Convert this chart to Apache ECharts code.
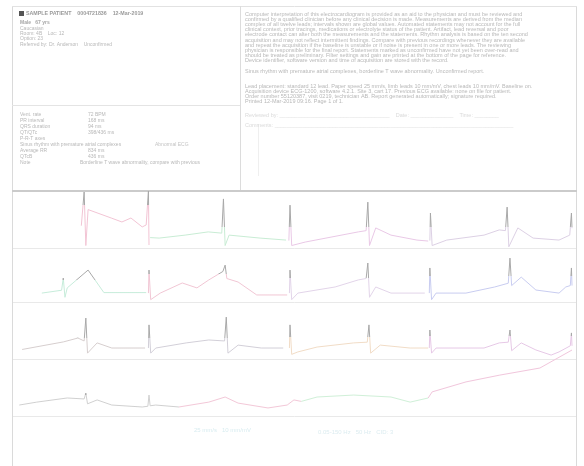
<!DOCTYPE html>
<html>
<head>
<meta charset="utf-8">
<script src="https://cdn.jsdelivr.net/npm/echarts/dist/echarts.min.js"></script>
<style>
  html, body { margin: 0; padding: 0; background: #fff; }
  #ecg { width: 584px; height: 466px; }
</style>
</head>
<body>
<div id="ecg"></div>
<script>
// traces: [time s, mV], one array per printed segment
var r1Seg1 = [[1.30,0.5],[1.35,1.86],[1.38,-0.3],[1.42,1.15],[1.45,1.21],[1.83,0.81],[2.02,0.65],[2.18,0.81],[2.38,0.45],[2.45,0.53],[2.48,0.5],[2.49,1.9],[2.50,-0.28]];
var r1Seg2 = [[2.52,0.02],[2.68,0.0],[3.14,0.12],[3.55,0.25],[3.79,0.2],[3.82,1.58],[3.85,-0.3],[3.92,0.12],[4.47,0.0],[4.93,-0.08]];
var r1Seg3 = [[4.98,-0.1],[5.0,1.33],[5.03,-0.3],[5.27,-0.16],[6.21,0.25],[6.35,0.3],[6.38,1.45],[6.41,-0.3],[6.52,0.41],[6.79,0.12],[7.25,-0.08],[7.45,-0.12]];
var r1Seg4 = [[7.48,-0.1],[7.49,1.01],[7.52,-0.3],[7.78,-0.08],[8.44,0.12],[8.71,0.33],[8.82,0.3],[8.85,1.25],[8.88,-0.35],[9.04,0.41],[9.31,0.0],[9.77,-0.08],[9.96,0.12],[9.99,1.01],[10.0,0.4]];

var r2Seg1 = [[0.6,-0.02],[0.95,0.1],[0.98,0.62],[1.01,-0.2],[1.05,0.2],[1.42,0.96],[1.7,0.0],[2.45,0.0]];
var r2Seg2 = [[2.49,-0.02],[2.5,0.96],[2.53,-0.3],[2.7,-0.02],[3.09,0.41],[3.35,0.2],[3.56,0.54],[3.81,0.9],[3.85,1.17],[3.88,0.6],[4.08,0.45],[4.41,-0.1],[4.95,-0.1]];
var r2Seg3 = [[4.99,-0.02],[5.0,0.96],[5.03,-0.3],[5.14,-0.02],[5.8,0.24],[6.21,0.54],[6.35,0.6],[6.38,1.26],[6.41,-0.2],[6.52,0.24],[6.79,-0.02],[7.39,-0.02]];
var r2Seg4 = [[7.47,-0.02],[7.48,1.05],[7.51,-0.3],[7.59,-0.02],[8.12,-0.02],[8.63,0.24],[8.87,0.4],[8.9,1.47],[8.93,0.3],[9.1,0.66],[9.36,0.11],[9.77,-0.02],[9.89,0.24],[9.97,0.3],[9.99,1.05],[10.0,0.3]];

var r3Seg1 = [[0.25,-0.05],[0.98,0.26],[1.24,0.42],[1.35,0.3],[1.38,1.24],[1.41,-0.2],[1.58,0.22],[1.84,0.01],[2.43,0.01]];
var r3Seg2 = [[2.49,0.01],[2.5,0.96],[2.53,-0.2],[2.62,0.01],[3.16,0.22],[3.56,0.34],[3.84,0.3],[3.87,1.28],[3.9,-0.2],[4.08,0.13],[4.49,0.01],[4.88,0.01]];
var r3Seg3 = [[4.99,0.01],[5.0,0.96],[5.03,-0.25],[5.14,-0.15],[5.48,0.05],[6.13,0.22],[6.37,0.25],[6.4,0.96],[6.43,-0.2],[6.6,0.13],[7.13,0.01],[7.45,0.01]];
var r3Seg4 = [[7.47,0.01],[7.48,0.75],[7.51,-0.2],[7.59,0.01],[8.44,0.01],[8.71,0.22],[8.87,0.25],[8.9,0.75],[8.93,-0.1],[9.1,0.22],[9.36,-0.07],[9.63,-0.28],[9.77,-0.15],[9.97,0.1],[9.99,0.63],[10.0,0.1]];

var r4Seg1 = [[0.2,0.05],[0.51,0.17],[1.05,0.34],[1.35,0.3],[1.38,0.54],[1.41,0.1],[1.58,0.26],[1.84,0.05],[2.38,-0.03],[2.48,0.0],[2.5,0.46],[2.52,0.02],[2.62,0.05],[3.03,-0.03]];
var r4Seg2 = [[3.03,-0.03],[3.56,0.17],[3.85,0.38],[4.08,0.13],[4.61,-0.07],[4.95,0.05],[5.07,0.26],[5.2,0.2]];
var r4Seg3 = [[5.2,0.2],[5.48,0.38],[6.13,0.46],[6.79,0.38],[7.13,0.17],[7.45,0.34]];
var r4Seg4 = [[7.45,0.34],[7.52,0.59],[8.12,1.0],[8.72,1.28],[9.43,1.57],[10.0,2.31]];

// header texts
var titleText = 'SAMPLE PATIENT    0004721836    12-Mar-2019';
var headerLines = ['Male   67 yrs', 'Caucasian', 'Room: 4B    Loc: 12', 'Option: 23', 'Referred by: Dr. Anderson    Unconfirmed'];
var measureLabels = ['Vent. rate', 'PR interval', 'QRS duration', 'QT/QTc', 'P-R-T axes', 'Sinus rhythm with premature atrial complexes', 'Average RR', 'QTcB', 'Note'];
var measureValues = ['72 BPM', '168 ms', '94 ms', '398/436 ms', '', '', '834 ms', '436 ms', 'Borderline T wave abnormality, compare with previous'];
var measureExtra = ['', '', '', '', '', 'Abnormal ECG', '', '', ''];
var noteLines = [
  'Computer interpretation of this electrocardiogram is provided as an aid to the physician and must be reviewed and',
  'confirmed by a qualified clinician before any clinical decision is made. Measurements are derived from the median',
  'complex of all twelve leads; intervals shown are global values. Automated statements may not account for the full',
  'clinical context, prior tracings, medications or electrolyte status of the patient. Artifact, lead reversal and poor',
  'electrode contact can alter both the measurements and the statements. Rhythm analysis is based on the ten second',
  'acquisition and may not reflect intermittent findings. Compare with previous recordings whenever they are available',
  'and repeat the acquisition if the baseline is unstable or if noise is present in one or more leads. The reviewing',
  'physician is responsible for the final report. Statements marked as unconfirmed have not yet been over-read and',
  'should be treated as preliminary. Filter settings and gain are printed at the bottom of the page for reference.',
  'Device identifier, software version and time of acquisition are stored with the record.'
];
var summaryLine = 'Sinus rhythm with premature atrial complexes, borderline T wave abnormality. Unconfirmed report.';
var detailLines = [
  'Lead placement: standard 12 lead. Paper speed 25 mm/s, limb leads 10 mm/mV, chest leads 10 mm/mV. Baseline on.',
  'Acquisition device ECG-1200, software 4.2.1. Site 3, cart 17. Previous ECG available: none on file for patient.',
  'Order number 55120387, visit 0219, technician AB. Report generated automatically; signature required.',
  'Printed 12-Mar-2019 09:16. Page 1 of 1.'
];
var reviewLines = ['Reviewed by: ____________________________________    Date: ______________    Time: ________', 'Comments: ______________________________________________________________________________'];
var footerLeft = '25 mm/s   10 mm/mV';
var footerRight = '0.05-150 Hz   50 Hz   CID: 3';

var rowTops = [191, 248, 302, 360];
var rowHeights = [57, 54, 56, 56];
var SPIKE = '#a8a8a8';

// cut: above this level the trace prints grey (QRS spikes); null = single colour
var traces = [
  { row: 0, data: r1Seg1, color: '#f2c4d4', cut: 1.3 },
  { row: 0, data: r1Seg2, color: '#c8ecd4', cut: 0.45 },
  { row: 0, data: r1Seg3, color: '#e9c8e6', cut: 0.45 },
  { row: 0, data: r1Seg4, color: '#dcd0e4', cut: 0.45 },
  { row: 1, data: r2Seg1, color: '#c6ecda', cut: 0.5 },
  { row: 1, data: r2Seg2, color: '#f1c6d4', cut: 0.75 },
  { row: 1, data: r2Seg3, color: '#e2d4e9', cut: 0.62 },
  { row: 1, data: r2Seg4, color: '#c8ccf0', cut: 0.7 },
  { row: 2, data: r3Seg1, color: '#d6cece', cut: 0.45 },
  { row: 2, data: r3Seg2, color: '#d2cfd8', cut: 0.45 },
  { row: 2, data: r3Seg3, color: '#f1dcc6', cut: 0.45 },
  { row: 2, data: r3Seg4, color: '#e6c8e6', cut: 0.45 },
  { row: 3, data: r4Seg1, color: '#d0d0d0', cut: 0.42 },
  { row: 3, data: r4Seg2, color: '#f3c8d8', cut: null },
  { row: 3, data: r4Seg3, color: '#d0f0d8', cut: null },
  { row: 3, data: r4Seg4, color: '#f1c6dc', cut: null }
];

// vertical gradient over the path's bounding box: grey above cut, colour below
function traceColor(t) {
  if (t.cut === null) return t.color;
  var ys = t.data.map(function (p) { return p[1]; });
  var hi = Math.max.apply(null, ys), lo = Math.min.apply(null, ys);
  var f = Math.min(1, Math.max(0, (hi - t.cut) / (hi - lo)));
  return {
    type: 'linear', x: 0, y: 0, x2: 0, y2: 1,
    colorStops: [
      { offset: 0, color: SPIKE }, { offset: f, color: SPIKE },
      { offset: f, color: t.color }, { offset: 1, color: t.color }
    ]
  };
}

var grids = [], xAxes = [], yAxes = [], series = [];
rowTops.forEach(function (top, i) {
  grids.push({ left: 8, width: 564, top: top, height: rowHeights[i] });
  xAxes.push({ type: 'value', gridIndex: i, min: 0, max: 10, show: false });
  yAxes.push({ type: 'value', gridIndex: i, min: -0.4, max: 1.9, show: false });
});
traces.forEach(function (t) {
  series.push({
    type: 'line', xAxisIndex: t.row, yAxisIndex: t.row, data: t.data,
    showSymbol: false, symbol: 'none', clip: false,
    lineStyle: { width: 1, color: traceColor(t) }
  });
});

var font = 'Liberation Sans';
function txt(x, y, s, fill, size, weight) {
  return { type: 'text', x: x, y: y, silent: true,
    style: { text: s, fill: fill, fontSize: size || 5, fontFamily: font, fontWeight: weight || 'normal', verticalAlign: 'middle' } };
}
function ln(x1, y1, x2, y2, c, w) {
  return { type: 'line', silent: true, shape: { x1: x1, y1: y1, x2: x2, y2: y2 }, style: { stroke: c, lineWidth: w || 1 } };
}

var g = [];
// frame
g.push(ln(12.5, 6, 12.5, 466, '#dadada'));
g.push(ln(576.5, 6, 576.5, 466, '#dadada'));
g.push(ln(12, 6.5, 577, 6.5, '#e2e2e2'));
g.push(ln(240.5, 6, 240.5, 190, '#dcdcdc'));
g.push(ln(12, 105.5, 240, 105.5, '#e4e4e4'));
g.push(ln(12, 191, 577, 191, '#cbcbcb', 2));
[248.5, 302.5, 359.5, 416.5].forEach(function (y) { g.push(ln(13, y, 576, y, '#e9e9e9')); });
g.push(ln(258.5, 124, 258.5, 176, '#efefef'));

// left header
g.push({ type: 'rect', silent: true, shape: { x: 19, y: 11, width: 5, height: 5 }, style: { fill: '#555' } });
g.push(txt(26, 14, titleText, '#9a9a9a', 5.3, 'bold'));
headerLines.forEach(function (s, i) {
  g.push(txt(20, 23 + i * 5.3, s, i === 0 ? '#a6a6a6' : '#b8b8b8', 5, i === 0 ? 'bold' : 'normal'));
});
measureLabels.forEach(function (s, i) {
  var y = 115 + i * 6;
  g.push(txt(20, y, s, '#b8b8b8', 5));
  if (measureValues[i]) g.push(txt(i === 8 ? 80 : 88, y, measureValues[i], '#b8b8b8', 5));
  if (measureExtra[i]) g.push(txt(155, y, measureExtra[i], '#c4c4c4', 5));
});

// right header
noteLines.forEach(function (s, i) { g.push(txt(245, 14 + i * 5.2, s, '#b8b8b8', 5.5)); });
g.push(txt(245, 71, summaryLine, '#b8b8b8', 5.5));
detailLines.forEach(function (s, i) { g.push(txt(245, 86 + i * 5.3, s, '#b8b8b8', 5.5)); });
reviewLines.forEach(function (s, i) { g.push(txt(245, 115 + i * 10, s, '#dadada', 5.5)); });

// footer
g.push(txt(194, 430, footerLeft, '#d8ecf0', 6));
g.push(txt(318, 432, footerRight, '#dcecf0', 6));

var chart = echarts.init(document.getElementById('ecg'), null, { renderer: 'canvas' });
chart.setOption({
  backgroundColor: '#ffffff',
  animation: false,
  grid: grids,
  xAxis: xAxes,
  yAxis: yAxes,
  series: series,
  graphic: g
});
</script>
</body>
</html>
